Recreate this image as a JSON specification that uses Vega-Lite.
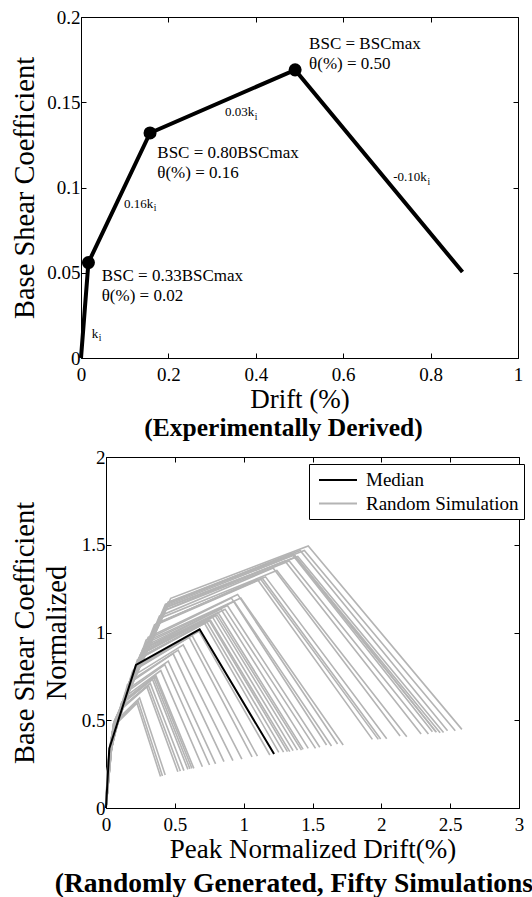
{
  "$schema": "https://vega.github.io/schema/vega-lite/v6.json",
  "padding": {"left": 9, "top": 8, "right": 0, "bottom": 0},
  "config": {
    "font": "Liberation Serif",
    "view": {"stroke": null},
    "axis": {
      "grid": false, "domainColor": "black", "domainWidth": 1, "tickColor": "black", "tickSize": -5, "tickWidth": 1,
      "labelFont": "Liberation Serif", "labelFontSize": 19, "labelColor": "black", "labelPadding": 12,
      "labelFlush": false, "labelOverlap": false, "labelBound": false,
      "titleFont": "Liberation Serif", "titleFontSize": 27, "titleFontWeight": "normal", "titleColor": "black"
    },
    "axisY": {"labelPadding": 6, "titleFontSize": 28.5, "titlePadding": 7},
    "title": {"font": "Liberation Serif", "fontSize": 25.5, "fontWeight": "bold", "color": "black", "orient": "bottom"}
  },
  "datasets": {
    "topCurve": [
      {"drift": 0, "bsc": 0}, {"drift": 0.017, "bsc": 0.056}, {"drift": 0.158, "bsc": 0.132}, {"drift": 0.49, "bsc": 0.169}, {"drift": 0.873, "bsc": 0.0504}
    ],
    "topKnees": [
      {"drift": 0.017, "bsc": 0.056}, {"drift": 0.158, "bsc": 0.132}, {"drift": 0.49, "bsc": 0.169}
    ],
    "topLabels": [
      {"drift": 0.522, "bsc": 0.181, "label": "BSC = BSCmax"},
      {"drift": 0.522, "bsc": 0.1693, "label": "θ(%) = 0.50"},
      {"drift": 0.1746, "bsc": 0.1175, "label": "BSC = 0.80BSCmax"},
      {"drift": 0.1746, "bsc": 0.1058, "label": "θ(%) = 0.16"},
      {"drift": 0.0474, "bsc": 0.0452, "label": "BSC = 0.33BSCmax"},
      {"drift": 0.0474, "bsc": 0.0334, "label": "θ(%) = 0.02"}
    ],
    "slopeLabels": [
      {"drift": 0.3965, "bsc": 0.1419, "label": "0.03k"},
      {"drift": 0.1654, "bsc": 0.0882, "label": "0.16k"},
      {"drift": 0.7915, "bsc": 0.1038, "label": "-0.10k"},
      {"drift": 0.0394, "bsc": 0.0119, "label": "k"}
    ],
    "median": [
      {"drift": 0, "bsc": 0}, {"drift": 0.024, "bsc": 0.34}, {"drift": 0.218, "bsc": 0.815}, {"drift": 0.68, "bsc": 1.018}, {"drift": 1.221, "bsc": 0.308}
    ],
    "sims": [
      {"sim":1,"drift":0,"bsc":0},{"sim":1,"drift":0.009,"bsc":0.197},{"sim":1,"drift":0.072,"bsc":0.478},{"sim":1,"drift":0.225,"bsc":0.597},{"sim":1,"drift":0.396,"bsc":0.179},
      {"sim":2,"drift":0,"bsc":0},{"sim":2,"drift":0.009,"bsc":0.201},{"sim":2,"drift":0.075,"bsc":0.488},{"sim":2,"drift":0.233,"bsc":0.61},{"sim":2,"drift":0.41,"bsc":0.183},
      {"sim":3,"drift":0,"bsc":0},{"sim":3,"drift":0.010,"bsc":0.207},{"sim":3,"drift":0.078,"bsc":0.501},{"sim":3,"drift":0.244,"bsc":0.627},{"sim":3,"drift":0.43,"bsc":0.188},
      {"sim":4,"drift":0,"bsc":0},{"sim":4,"drift":0.012,"bsc":0.228},{"sim":4,"drift":0.095,"bsc":0.552},{"sim":4,"drift":0.297,"bsc":0.69},{"sim":4,"drift":0.522,"bsc":0.207},
      {"sim":5,"drift":0,"bsc":0},{"sim":5,"drift":0.012,"bsc":0.231},{"sim":5,"drift":0.098,"bsc":0.56},{"sim":5,"drift":0.307,"bsc":0.70},{"sim":5,"drift":0.54,"bsc":0.21},
      {"sim":6,"drift":0,"bsc":0},{"sim":6,"drift":0.013,"bsc":0.234},{"sim":6,"drift":0.103,"bsc":0.568},{"sim":6,"drift":0.322,"bsc":0.71},{"sim":6,"drift":0.566,"bsc":0.213},
      {"sim":7,"drift":0,"bsc":0},{"sim":7,"drift":0.014,"bsc":0.242},{"sim":7,"drift":0.108,"bsc":0.587},{"sim":7,"drift":0.338,"bsc":0.733},{"sim":7,"drift":0.595,"bsc":0.22},
      {"sim":8,"drift":0,"bsc":0},{"sim":8,"drift":0.014,"bsc":0.245},{"sim":8,"drift":0.111,"bsc":0.595},{"sim":8,"drift":0.347,"bsc":0.743},{"sim":8,"drift":0.61,"bsc":0.223},
      {"sim":9,"drift":0,"bsc":0},{"sim":9,"drift":0.014,"bsc":0.249},{"sim":9,"drift":0.114,"bsc":0.603},{"sim":9,"drift":0.355,"bsc":0.753},{"sim":9,"drift":0.624,"bsc":0.226},
      {"sim":10,"drift":0,"bsc":0},{"sim":10,"drift":0.015,"bsc":0.249},{"sim":10,"drift":0.116,"bsc":0.603},{"sim":10,"drift":0.363,"bsc":0.753},{"sim":10,"drift":0.638,"bsc":0.226},
      {"sim":11,"drift":0,"bsc":0},{"sim":11,"drift":0.017,"bsc":0.27},{"sim":11,"drift":0.137,"bsc":0.653},{"sim":11,"drift":0.427,"bsc":0.817},{"sim":11,"drift":0.752,"bsc":0.245},
      {"sim":12,"drift":0,"bsc":0},{"sim":12,"drift":0.018,"bsc":0.276},{"sim":12,"drift":0.145,"bsc":0.669},{"sim":12,"drift":0.452,"bsc":0.837},{"sim":12,"drift":0.796,"bsc":0.251},
      {"sim":13,"drift":0,"bsc":0},{"sim":13,"drift":0.019,"bsc":0.29},{"sim":13,"drift":0.156,"bsc":0.704},{"sim":13,"drift":0.487,"bsc":0.88},{"sim":13,"drift":0.857,"bsc":0.264},
      {"sim":14,"drift":0,"bsc":0},{"sim":14,"drift":0.021,"bsc":0.297},{"sim":14,"drift":0.168,"bsc":0.72},{"sim":14,"drift":0.524,"bsc":0.90},{"sim":14,"drift":0.922,"bsc":0.27},
      {"sim":15,"drift":0,"bsc":0},{"sim":15,"drift":0.022,"bsc":0.307},{"sim":15,"drift":0.179,"bsc":0.744},{"sim":15,"drift":0.561,"bsc":0.93},{"sim":15,"drift":0.987,"bsc":0.279},
      {"sim":16,"drift":0,"bsc":0},{"sim":16,"drift":0.024,"bsc":0.321},{"sim":16,"drift":0.193,"bsc":0.779},{"sim":16,"drift":0.603,"bsc":0.973},{"sim":16,"drift":1.061,"bsc":0.292},
      {"sim":17,"drift":0,"bsc":0},{"sim":17,"drift":0.027,"bsc":0.332},{"sim":17,"drift":0.216,"bsc":0.805},{"sim":17,"drift":0.676,"bsc":1.007},{"sim":17,"drift":1.19,"bsc":0.302},
      {"sim":18,"drift":0,"bsc":0},{"sim":18,"drift":0.029,"bsc":0.349},{"sim":18,"drift":0.228,"bsc":0.845},{"sim":18,"drift":0.713,"bsc":1.057},{"sim":18,"drift":1.255,"bsc":0.317},
      {"sim":19,"drift":0,"bsc":0},{"sim":19,"drift":0.029,"bsc":0.35},{"sim":19,"drift":0.235,"bsc":0.848},{"sim":19,"drift":0.733,"bsc":1.06},{"sim":19,"drift":1.29,"bsc":0.318},
      {"sim":20,"drift":0,"bsc":0},{"sim":20,"drift":0.03,"bsc":0.353},{"sim":20,"drift":0.24,"bsc":0.856},{"sim":20,"drift":0.749,"bsc":1.07},{"sim":20,"drift":1.318,"bsc":0.321},
      {"sim":21,"drift":0,"bsc":0},{"sim":21,"drift":0.03,"bsc":0.353},{"sim":21,"drift":0.243,"bsc":0.856},{"sim":21,"drift":0.759,"bsc":1.07},{"sim":21,"drift":1.335,"bsc":0.321},
      {"sim":22,"drift":0,"bsc":0},{"sim":22,"drift":0.031,"bsc":0.36},{"sim":22,"drift":0.247,"bsc":0.872},{"sim":22,"drift":0.772,"bsc":1.09},{"sim":22,"drift":1.359,"bsc":0.327},
      {"sim":23,"drift":0,"bsc":0},{"sim":23,"drift":0.032,"bsc":0.363},{"sim":23,"drift":0.253,"bsc":0.88},{"sim":23,"drift":0.79,"bsc":1.10},{"sim":23,"drift":1.391,"bsc":0.33},
      {"sim":24,"drift":0,"bsc":0},{"sim":24,"drift":0.032,"bsc":0.363},{"sim":24,"drift":0.258,"bsc":0.88},{"sim":24,"drift":0.807,"bsc":1.10},{"sim":24,"drift":1.42,"bsc":0.33},
      {"sim":25,"drift":0,"bsc":0},{"sim":25,"drift":0.033,"bsc":0.367},{"sim":25,"drift":0.26,"bsc":0.891},{"sim":25,"drift":0.814,"bsc":1.113},{"sim":25,"drift":1.432,"bsc":0.334},
      {"sim":26,"drift":0,"bsc":0},{"sim":26,"drift":0.033,"bsc":0.374},{"sim":26,"drift":0.267,"bsc":0.907},{"sim":26,"drift":0.835,"bsc":1.133},{"sim":26,"drift":1.469,"bsc":0.34},
      {"sim":27,"drift":0,"bsc":0},{"sim":27,"drift":0.035,"bsc":0.374},{"sim":27,"drift":0.277,"bsc":0.907},{"sim":27,"drift":0.865,"bsc":1.133},{"sim":27,"drift":1.522,"bsc":0.34},
      {"sim":28,"drift":0,"bsc":0},{"sim":28,"drift":0.035,"bsc":0.381},{"sim":28,"drift":0.282,"bsc":0.923},{"sim":28,"drift":0.882,"bsc":1.153},{"sim":28,"drift":1.553,"bsc":0.346},
      {"sim":29,"drift":0,"bsc":0},{"sim":29,"drift":0.036,"bsc":0.395},{"sim":29,"drift":0.291,"bsc":0.957},{"sim":29,"drift":0.91,"bsc":1.197},{"sim":29,"drift":1.602,"bsc":0.359},
      {"sim":30,"drift":0,"bsc":0},{"sim":30,"drift":0.037,"bsc":0.388},{"sim":30,"drift":0.298,"bsc":0.941},{"sim":30,"drift":0.931,"bsc":1.177},{"sim":30,"drift":1.638,"bsc":0.353},
      {"sim":31,"drift":0,"bsc":0},{"sim":31,"drift":0.038,"bsc":0.402},{"sim":31,"drift":0.306,"bsc":0.973},{"sim":31,"drift":0.956,"bsc":1.217},{"sim":31,"drift":1.682,"bsc":0.365},
      {"sim":32,"drift":0,"bsc":0},{"sim":32,"drift":0.039,"bsc":0.395},{"sim":32,"drift":0.313,"bsc":0.957},{"sim":32,"drift":0.979,"bsc":1.197},{"sim":32,"drift":1.723,"bsc":0.359},
      {"sim":33,"drift":0,"bsc":0},{"sim":33,"drift":0.044,"bsc":0.43},{"sim":33,"drift":0.352,"bsc":1.043},{"sim":33,"drift":1.099,"bsc":1.303},{"sim":33,"drift":1.935,"bsc":0.391},
      {"sim":34,"drift":0,"bsc":0},{"sim":34,"drift":0.045,"bsc":0.43},{"sim":34,"drift":0.36,"bsc":1.043},{"sim":34,"drift":1.124,"bsc":1.303},{"sim":34,"drift":1.978,"bsc":0.391},
      {"sim":35,"drift":0,"bsc":0},{"sim":35,"drift":0.045,"bsc":0.432},{"sim":35,"drift":0.363,"bsc":1.048},{"sim":35,"drift":1.134,"bsc":1.31},{"sim":35,"drift":1.995,"bsc":0.393},
      {"sim":36,"drift":0,"bsc":0},{"sim":36,"drift":0.046,"bsc":0.435},{"sim":36,"drift":0.371,"bsc":1.053},{"sim":36,"drift":1.159,"bsc":1.317},{"sim":36,"drift":2.039,"bsc":0.395},
      {"sim":37,"drift":0,"bsc":0},{"sim":37,"drift":0.049,"bsc":0.451},{"sim":37,"drift":0.388,"bsc":1.093},{"sim":37,"drift":1.214,"bsc":1.367},{"sim":37,"drift":2.136,"bsc":0.41},
      {"sim":38,"drift":0,"bsc":0},{"sim":38,"drift":0.05,"bsc":0.447},{"sim":38,"drift":0.397,"bsc":1.083},{"sim":38,"drift":1.241,"bsc":1.353},{"sim":38,"drift":2.185,"bsc":0.406},
      {"sim":39,"drift":0,"bsc":0},{"sim":39,"drift":0.052,"bsc":0.464},{"sim":39,"drift":0.416,"bsc":1.125},{"sim":39,"drift":1.30,"bsc":1.407},{"sim":39,"drift":2.289,"bsc":0.422},
      {"sim":40,"drift":0,"bsc":0},{"sim":40,"drift":0.053,"bsc":0.464},{"sim":40,"drift":0.426,"bsc":1.125},{"sim":40,"drift":1.331,"bsc":1.407},{"sim":40,"drift":2.342,"bsc":0.422},
      {"sim":41,"drift":0,"bsc":0},{"sim":41,"drift":0.054,"bsc":0.479},{"sim":41,"drift":0.431,"bsc":1.16},{"sim":41,"drift":1.347,"bsc":1.45},{"sim":41,"drift":2.371,"bsc":0.435},
      {"sim":42,"drift":0,"bsc":0},{"sim":42,"drift":0.054,"bsc":0.479},{"sim":42,"drift":0.436,"bsc":1.16},{"sim":42,"drift":1.361,"bsc":1.45},{"sim":42,"drift":2.396,"bsc":0.435},
      {"sim":43,"drift":0,"bsc":0},{"sim":43,"drift":0.055,"bsc":0.472},{"sim":43,"drift":0.441,"bsc":1.144},{"sim":43,"drift":1.379,"bsc":1.43},{"sim":43,"drift":2.427,"bsc":0.429},
      {"sim":44,"drift":0,"bsc":0},{"sim":44,"drift":0.056,"bsc":0.473},{"sim":44,"drift":0.446,"bsc":1.147},{"sim":44,"drift":1.393,"bsc":1.433},{"sim":44,"drift":2.452,"bsc":0.43},
      {"sim":45,"drift":0,"bsc":0},{"sim":45,"drift":0.056,"bsc":0.484},{"sim":45,"drift":0.451,"bsc":1.173},{"sim":45,"drift":1.41,"bsc":1.467},{"sim":45,"drift":2.481,"bsc":0.44},
      {"sim":46,"drift":0,"bsc":0},{"sim":46,"drift":0.058,"bsc":0.484},{"sim":46,"drift":0.461,"bsc":1.173},{"sim":46,"drift":1.441,"bsc":1.467},{"sim":46,"drift":2.537,"bsc":0.44},
      {"sim":47,"drift":0,"bsc":0},{"sim":47,"drift":0.059,"bsc":0.493},{"sim":47,"drift":0.47,"bsc":1.195},{"sim":47,"drift":1.469,"bsc":1.493},{"sim":47,"drift":2.585,"bsc":0.448},
      {"sim":48,"drift":0,"bsc":0},{"sim":48,"drift":0.016,"bsc":0.259},{"sim":48,"drift":0.127,"bsc":0.627},{"sim":48,"drift":0.398,"bsc":0.783},{"sim":48,"drift":0.70,"bsc":0.235},
      {"sim":49,"drift":0,"bsc":0},{"sim":49,"drift":0.025,"bsc":0.325},{"sim":49,"drift":0.2,"bsc":0.787},{"sim":49,"drift":0.625,"bsc":0.983},{"sim":49,"drift":1.10,"bsc":0.295},
      {"sim":50,"drift":0,"bsc":0},{"sim":50,"drift":0.055,"bsc":0.475},{"sim":50,"drift":0.436,"bsc":1.152},{"sim":50,"drift":1.364,"bsc":1.44},{"sim":50,"drift":2.40,"bsc":0.432}
    ]
  },
  "spacing": 6,
  "resolve": {"scale": {"color": "independent"}, "legend": {"color": "independent"}},
  "vconcat": [
    {
      "spacing": 0,
      "hconcat": [
        {
          "width": 1, "height": 1,
          "data": {"values": [{"t": ""}]},
          "mark": {"type": "text", "opacity": 0},
          "encoding": {"text": {"field": "t"}}
        },
        {
          "width": 437, "height": 341,
          "title": {"text": "(Experimentally Derived)", "offset": 4, "dx": -16},
          "resolve": {"axis": {"x": "independent", "y": "independent"}},
          "layer": [
            {
              "data": {"name": "topCurve"},
              "mark": {"type": "line", "color": "black", "strokeWidth": 4},
              "encoding": {
                "x": {"field": "drift", "type": "quantitative", "scale": {"domain": [0, 1], "nice": false},
                      "axis": {"values": [0, 0.2, 0.4, 0.6, 0.8, 1], "format": "~g", "title": "Drift (%)", "titlePadding": 2}},
                "y": {"field": "bsc", "type": "quantitative", "scale": {"domain": [0, 0.2], "nice": false, "zero": true},
                      "axis": {"values": [0, 0.05, 0.1, 0.15, 0.2], "format": "~g", "title": "Base Shear Coefficient"}}
              }
            },
            {
              "data": {"name": "topKnees"},
              "mark": {"type": "point", "filled": true, "color": "black", "opacity": 1, "size": 170},
              "encoding": {
                "x": {"field": "drift", "type": "quantitative", "axis": {"orient": "top", "values": [0, 0.2, 0.4, 0.6, 0.8, 1], "labels": false, "title": null}},
                "y": {"field": "bsc", "type": "quantitative", "axis": {"orient": "right", "values": [0, 0.05, 0.1, 0.15, 0.2], "labels": false, "title": null}}
              }
            },
            {
              "data": {"name": "topLabels"},
              "mark": {"type": "text", "align": "left", "baseline": "alphabetic", "fontSize": 17, "font": "Liberation Serif", "color": "black"},
              "encoding": {
                "x": {"field": "drift", "type": "quantitative", "axis": null},
                "y": {"field": "bsc", "type": "quantitative", "axis": null},
                "text": {"field": "label"}
              }
            },
            {
              "data": {"name": "slopeLabels"},
              "mark": {"type": "text", "align": "right", "baseline": "alphabetic", "fontSize": 13, "font": "Liberation Serif", "color": "black"},
              "encoding": {
                "x": {"field": "drift", "type": "quantitative", "axis": null},
                "y": {"field": "bsc", "type": "quantitative", "axis": null},
                "text": {"field": "label"}
              }
            },
            {
              "data": {"name": "slopeLabels"},
              "mark": {"type": "text", "align": "left", "baseline": "alphabetic", "fontSize": 9.5, "font": "Liberation Serif", "color": "black", "dx": 0.5, "dy": 3.5},
              "encoding": {
                "x": {"field": "drift", "type": "quantitative", "axis": null},
                "y": {"field": "bsc", "type": "quantitative", "axis": null},
                "text": {"value": "i"}
              }
            }
          ]
        }
      ]
    },
    {
      "spacing": 0,
      "resolve": {"scale": {"color": "independent"}, "legend": {"color": "independent"}},
      "hconcat": [
        {
          "width": 1, "height": 1,
          "data": {"values": [{"t": ""}]},
          "mark": {"type": "text", "opacity": 0},
          "encoding": {"text": {"field": "t"}}
        },
        {
          "width": 413, "height": 351,
          "title": {"text": "(Randomly Generated, Fifty Simulations)", "offset": 8, "dx": -14, "fontSize": 27.5},
          "resolve": {"axis": {"x": "independent", "y": "independent"}},
          "layer": [
            {
              "data": {"name": "sims"},
              "mark": {"type": "line", "strokeWidth": 1.6},
              "encoding": {
                "x": {"field": "drift", "type": "quantitative", "scale": {"domain": [0, 3], "nice": false},
                      "axis": {"values": [0, 0.5, 1, 1.5, 2, 2.5, 3], "format": "~g", "title": "Peak Normalized Drift(%)", "titlePadding": 2}},
                "y": {"field": "bsc", "type": "quantitative", "scale": {"domain": [0, 2], "nice": false},
                      "axis": {"values": [0, 0.5, 1, 1.5, 2], "format": "~g", "title": ["Base Shear Coefficient", "Normalized"], "titleLineHeight": 32, "titlePadding": 10}},
                "detail": {"field": "sim"},
                "color": {"datum": "Random Simulation", "type": "nominal",
                          "scale": {"domain": ["Median", "Random Simulation"], "range": ["black", "#b4b4b4"]},
                          "legend": {"title": null, "orient": "none", "legendX": 203, "legendY": 7, "strokeColor": "black", "fillColor": "white",
                                     "padding": 5, "symbolType": "M-0.6,0H3.2", "symbolSize": 400, "symbolStrokeWidth": 2, "labelOffset": 30,
                                     "labelFont": "Liberation Serif", "labelFontSize": 19, "labelColor": "black", "rowPadding": 2.5}}
              }
            },
            {
              "data": {"name": "median"},
              "mark": {"type": "line", "strokeWidth": 2},
              "encoding": {
                "x": {"field": "drift", "type": "quantitative", "axis": {"orient": "top", "values": [0, 0.5, 1, 1.5, 2, 2.5, 3], "labels": false, "title": null}},
                "y": {"field": "bsc", "type": "quantitative", "axis": {"orient": "right", "values": [0, 0.5, 1, 1.5, 2], "labels": false, "title": null}},
                "color": {"datum": "Median", "type": "nominal"}
              }
            }
          ]
        }
      ]
    }
  ]
}
